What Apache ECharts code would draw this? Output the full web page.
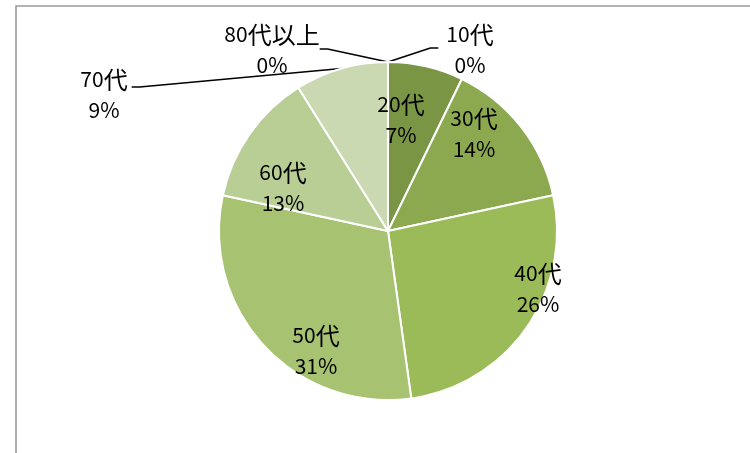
<!DOCTYPE html>
<html>
<head>
<meta charset="utf-8">
<script src="https://cdn.jsdelivr.net/npm/echarts@6/dist/echarts.min.js"></script>
<style>
html,body{margin:0;padding:0;background:#fff;}
#c{width:750px;height:453px;}
</style>
</head>
<body>
<div id="c"></div>
<script>
// ---- data ----
const categories = ['10代', '20代', '30代', '40代', '50代', '60代', '70代', '80代以上'];
const values = [0, 7.2, 14.4, 26.2, 30.6, 12.7, 8.9, 0];

// ---- styles / label placement (not data) ----
const sliceColors = ['#6f8a3a', '#7a9644', '#8ca950', '#9bbb59', '#a7c270', '#b9ce94', '#cbd9b2', '#dde6cc'];
const labelCenters = [[470, 50], [401, 120], [474, 134], [538, 289], [316, 351], [283, 188], [104, 95], [272, 50]];
const outsideLabel = [true, false, false, false, false, false, true, true];
const lineDy = [-2, 0, 0, 0, 0, 0, -8, -1];
const lineGap = [8, 0, 0, 0, 0, 0, 4, 0];

const chart = echarts.init(document.getElementById('c'), null, {renderer: 'canvas'});
const FONT = "'Noto Sans CJK JP', sans-serif";

function richName(name) {
  // split into latin and CJK runs so they can use different sizes
  const runs = name.match(/[\x00-\x7F]+|[^\x00-\x7F]+/g) || [];
  return runs.map(r => (/^[\x00-\x7F]+$/.test(r) ? '{a|' + r + '}' : '{j|' + r + '}')).join('');
}

chart.setOption({
  animation: false,
  graphic: [{
    type: 'rect',
    shape: {x: 16, y: 6, width: 900, height: 600},
    style: {fill: 'none', stroke: '#9a9a9a', lineWidth: 1.6},
    silent: true
  }],
  series: [{
    type: 'pie',
    center: [388, 231],
    radius: 169,
    startAngle: 90,
    clockwise: true,
    avoidLabelOverlap: false,
    percentPrecision: 0,
    emphasis: {disabled: true},
    itemStyle: {borderColor: '#ffffff', borderWidth: 2},
    label: {
      formatter: function (p) {
        return richName(p.name) + '\n{a|' + p.percent + '%}';
      },
      fontFamily: FONT,
      fontSize: 21,
      lineHeight: 31,
      color: '#000',
      align: 'center',
      rich: {
        a: {fontFamily: FONT, fontSize: 21, lineHeight: 31, color: '#000'},
        j: {fontFamily: FONT, fontSize: 24, lineHeight: 31, color: '#000'}
      }
    },
    labelLine: {lineStyle: {color: '#000', width: 1.5}},
    data: categories.map((name, i) => ({
      name: name,
      value: values[i],
      itemStyle: {color: sliceColors[i]},
      label: {position: outsideLabel[i] ? 'outside' : 'inside'},
      labelLine: {show: outsideLabel[i], length: 10, length2: 10}
    })),
    labelLayout: function (p) {
      const i = p.dataIndex;
      const c = labelCenters[i];
      const res = {x: c[0], y: c[1], align: 'center', verticalAlign: 'middle'};
      if (outsideLabel[i] && p.labelLinePoints && p.labelLinePoints.length) {
        const anchor = p.labelLinePoints[0];
        const w = p.labelRect.width;
        const labelRight = c[0] > anchor[0];
        const edge = labelRight ? c[0] - w / 2 - lineGap[i] : c[0] + w / 2 + lineGap[i];
        const ly = c[1] + lineDy[i];
        const mid = labelRight ? edge - 8 : edge + 8;
        res.labelLinePoints = [anchor, [mid, ly], [edge, ly]];
      }
      return res;
    }
  }]
});
</script>
</body>
</html>
